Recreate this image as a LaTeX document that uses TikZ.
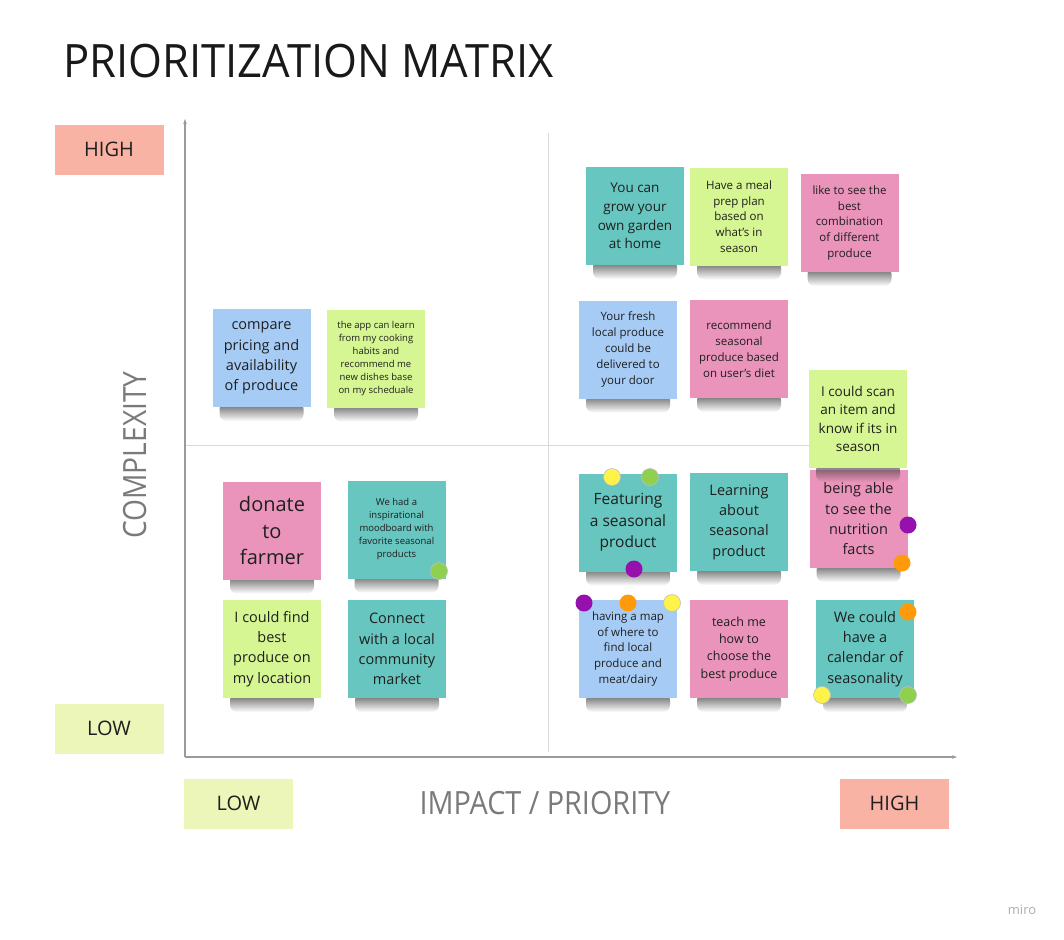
\documentclass[tikz,border=0pt]{standalone}
\usepackage{fontspec}
\setmainfont{Open Sans}
\usetikzlibrary{arrows.meta,fadings}
\definecolor{notecyan}{HTML}{67C6C0}
\definecolor{notelime}{HTML}{D5F692}
\definecolor{notepink}{HTML}{EA94BB}
\definecolor{noteblue}{HTML}{A6CCF5}
\definecolor{labelhigh}{HTML}{F8B3A4}
\definecolor{labellow}{HTML}{EBF6B8}
\definecolor{axisgray}{HTML}{9A9A9A}
\definecolor{gridgray}{HTML}{DADADA}
\definecolor{dotyellow}{HTML}{FFF34A}
\definecolor{dotgreen}{HTML}{8FD14F}
\definecolor{dotpurple}{HTML}{9510AC}
\definecolor{dotorange}{HTML}{FF9A0A}
\tikzset{
	sticky/.style={minimum width=98pt, minimum height=98pt, inner sep=0pt, align=center, text=black!88},
	noteshadow/.style={fill=black!80, opacity=0.8, path fading=south, rounded corners=7pt},
	tiny/.style={font=\fontsize{9.5}{13}\selectfont},
	small/.style={font=\fontsize{11.5}{15.8}\selectfont},
	mid/.style={font=\fontsize{12.5}{17.3}\selectfont},
	big/.style={font=\fontsize{13.5}{18.6}\selectfont},
	large/.style={font=\fontsize{14.5}{20.3}\selectfont},
	levelbox/.style={minimum width=109pt, minimum height=50pt, inner sep=0pt, text=black!88, font=\fontsize{20}{24}\selectfont},
	dot/.style={circle, minimum size=17pt, inner sep=0pt, draw=black!25, line width=0.6pt}
}
\def\sticky[#1](#2)(#3,#4)#5{\fill[noteshadow] (#3-42, #4+44) rectangle (#3+42, #4+63); \node[sticky, #1] (#2) at (#3, #4) {#5};}

\begin{document}
\begin{tikzpicture}[x=1pt, y=-1pt]
			%%%%% START %%%%%
			\useasboundingbox[fill=white] (0, 0) rectangle (1064, 939);
			
			\node[anchor=base west, inner sep=0pt, text=black!90, font=\fontsize{46}{50}\selectfont] (title) at (63, 78) {\scalebox{0.947}[1]{PRIORITIZATION MATRIX}};
			
			% axes and quadrants
			\draw[gridgray, line width=1pt] (548, 133) -- (548, 752);
			\draw[gridgray, line width=1pt] (185, 445) -- (860, 445);
			\draw[axisgray, line width=1.1pt, -{Stealth[length=5pt, width=3.5pt]}] (185, 757) -- (185, 119);
			\draw[axisgray, line width=1.1pt, -{Stealth[length=5pt, width=3.5pt]}] (185, 757) -- (957, 757);
			
			\node[levelbox, fill=labelhigh] (yhigh) at (109, 149.5) {HIGH};
			\node[levelbox, fill=labellow] (ylow) at (109, 728.5) {LOW};
			\node[levelbox, fill=labellow] (xlow) at (238.5, 803.5) {LOW};
			\node[levelbox, fill=labelhigh] (xhigh) at (894.5, 803.5) {HIGH};
			
			\node[rotate=90, text=black!52, font=\fontsize{32}{36}\selectfont] (complexity) at (135, 455) {\scalebox{0.88}[1]{COMPLEXITY}};
			\node[text=black!52, font=\fontsize{32}{36}\selectfont] (impact) at (545, 803) {\scalebox{0.9}[1]{IMPACT / PRIORITY}};
			
			% low impact
			\sticky[large, fill=noteblue](compare)(261.5, 358){compare\\pricing and\\availability\\of produce}
			\sticky[tiny, fill=notelime](learnapp)(376, 358.5){the app can learn\\from my cooking\\habits and\\recommend me\\new dishes base\\on my scheduale}
			\sticky[fill=notepink, font=\fontsize{20}{26.5}\selectfont](donate)(272, 530.5){donate\\to\\farmer}
			\sticky[tiny, fill=notecyan](moodboard)(396.5, 529.5){We had a\\inspirational\\moodboard with\\favorite seasonal\\products}
			\sticky[large, fill=notelime](findbest)(272, 649){I could find\\best\\produce on\\my location}
			\sticky[large, fill=notecyan](community)(397, 649){Connect\\with a local\\community\\market}
			
			% high impact
			\sticky[big, fill=notecyan](garden)(635, 216){You can\\grow your\\own garden\\at home}
			\sticky[small, fill=notelime](mealprep)(739, 216.5){Have a meal\\prep plan\\based on\\what's in\\season}
			\sticky[small, fill=notepink](combination)(849.5, 223){like to see the\\best\\combination\\of different\\produce}
			\sticky[small, fill=noteblue](delivery)(628, 349.5){Your fresh\\local produce\\could be\\delivered to\\your door}
			\sticky[small, fill=notepink](diet)(739, 349){recommend\\seasonal\\produce based\\on user's diet}
			\sticky[fill=notecyan, font=\fontsize{15.5}{21.5}\selectfont](featuring)(628, 522.5){Featuring\\a seasonal\\product}
			\sticky[large, fill=notecyan](learning)(739, 522){Learning\\about\\seasonal\\product}
			\sticky[large, fill=notepink](nutrition)(858.5, 519){being able\\to see the\\nutrition\\facts}
			\sticky[big, fill=notelime](scan)(858, 419){I could scan\\an item and\\know if its in\\season}
			\sticky[small, fill=noteblue](map)(628, 649){having a map\\of where to\\find local\\produce and\\meat/dairy}
			\sticky[mid, fill=notepink](teach)(739, 649){teach me\\how to\\choose the\\best produce}
			\sticky[large, fill=notecyan](calendar)(865, 649){We could\\have a\\calendar of\\seasonality}
			
			% votes
			\node[dot, fill=dotgreen] (vmood) at (439, 571) {};
			\node[dot, fill=dotyellow] (vfeat1) at (612, 477) {};
			\node[dot, fill=dotgreen] (vfeat2) at (650, 477) {};
			\node[dot, fill=dotpurple, draw=none] (vfeat3) at (634, 569) {};
			\node[dot, fill=dotpurple, draw=none] (vnut1) at (908, 525) {};
			\node[dot, fill=dotorange, draw=none] (vnut2) at (902, 563) {};
			\node[dot, fill=dotpurple, draw=none] (vmap1) at (584, 603) {};
			\node[dot, fill=dotorange, draw=none] (vmap2) at (628, 603) {};
			\node[dot, fill=dotyellow] (vmap3) at (672, 603) {};
			\node[dot, fill=dotorange, draw=none] (vcal1) at (908, 612) {};
			\node[dot, fill=dotyellow] (vcal2) at (822, 695) {};
			\node[dot, fill=dotgreen] (vcal3) at (908, 695) {};
			
			\node[text=black!32, font=\fontsize{13}{15}\selectfont] (miro) at (1022, 910) {miro};
			%%%%% END %%%%%
\end{tikzpicture}
\end{document}
